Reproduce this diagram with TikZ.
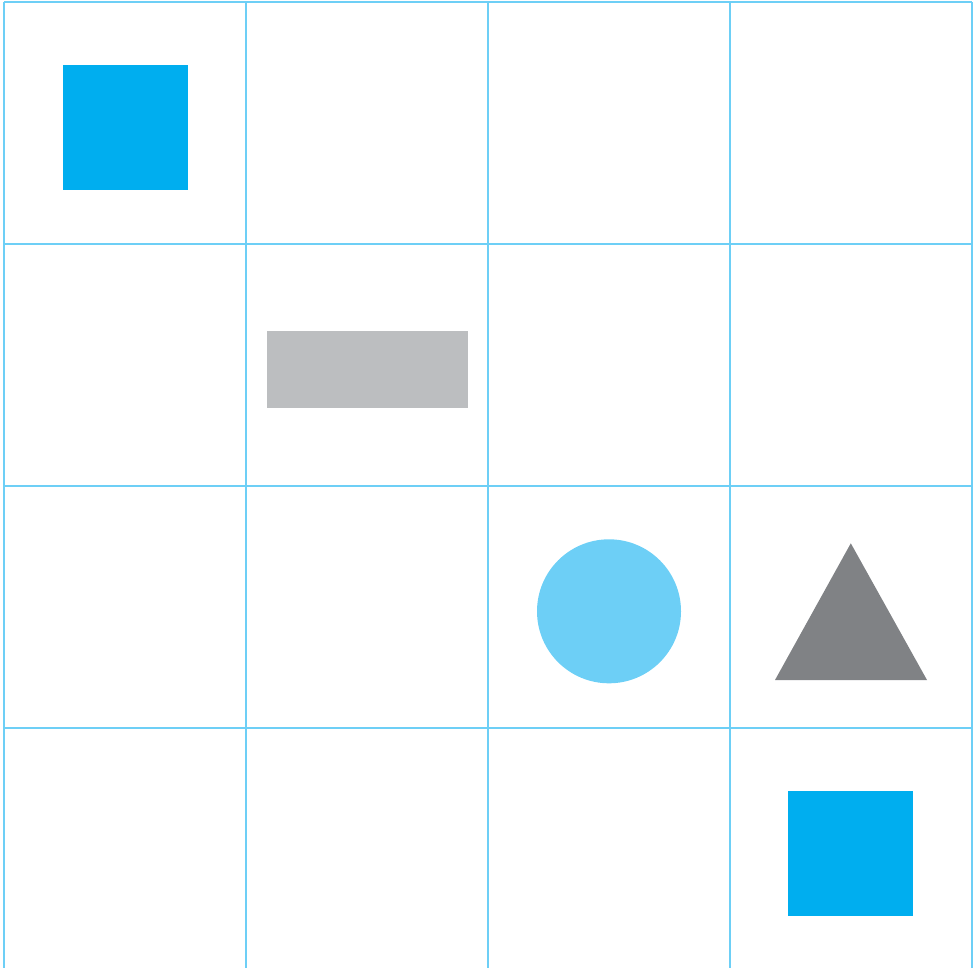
\documentclass[tikz,border=0pt]{standalone}
\definecolor{gridblue}{HTML}{6DCFF6}
\definecolor{cyanblue}{HTML}{00AEEF}
\definecolor{lightgrey}{HTML}{BCBEC0}
\definecolor{darkgrey}{HTML}{808285}
\definecolor{lightcyan}{HTML}{6DCFF6}
\tikzset{
  gridline/.style={draw=gridblue, line width=2pt},
  bluesq/.style={fill=cyanblue},
  greyrect/.style={fill=lightgrey},
  circfill/.style={fill=lightcyan},
  trifill/.style={fill=darkgrey},
}
\begin{document}
\begin{tikzpicture}[x=1pt,y=-1pt]
\useasboundingbox (0,0) rectangle (973,968);
% vertical grid lines
\foreach \x in {4,246,488,730,972}
  \draw[gridline] (\x,2) -- (\x,968);
% horizontal grid lines
\foreach \y in {2.5,243.8,485.8,727.8}
  \draw[gridline] (4,\y) -- (972,\y);
% shapes
\fill[bluesq] (63,65) rectangle (188,190);
\fill[greyrect] (267,331) rectangle (468,408);
\fill[circfill] (609,611.3) circle (72);
\fill[trifill] (850.8,543.3) -- (927,680) -- (775,680) -- cycle;
\fill[bluesq] (788,791) rectangle (913,916);
\end{tikzpicture}
\end{document}
